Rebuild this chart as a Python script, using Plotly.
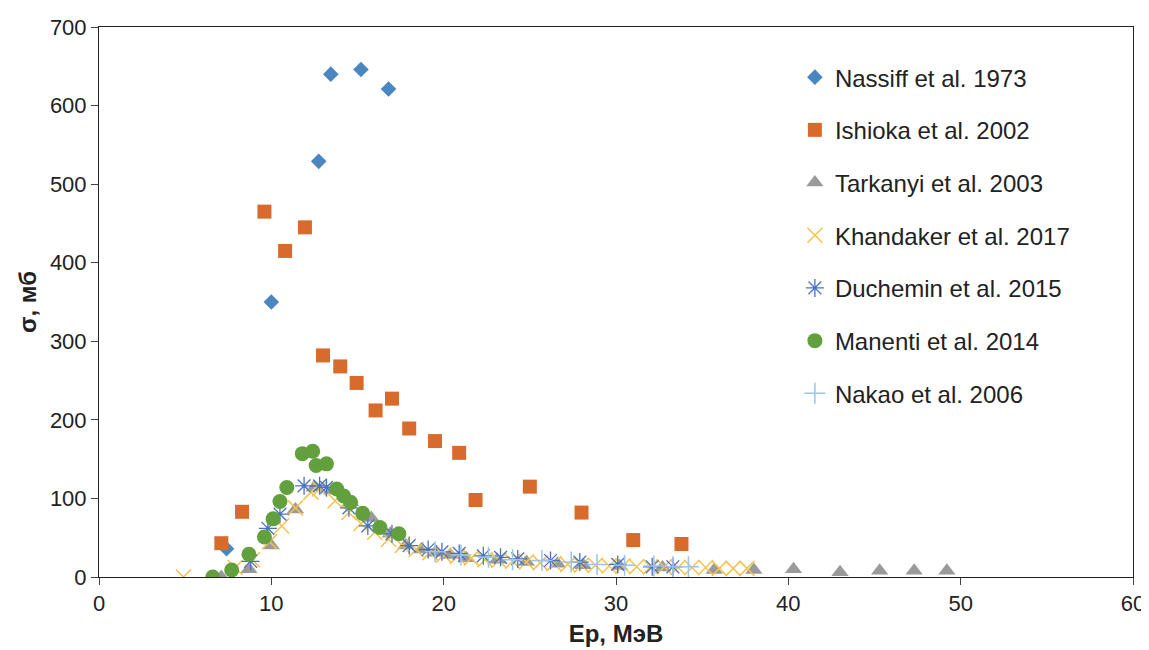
import plotly.graph_objects as go

# Nassiff et al. 1973
nassiff_x = [7.4, 10.0, 12.75, 13.45, 15.2, 16.8]
nassiff_y = [36, 350, 529, 640, 646, 621]

# Ishioka et al. 2002
ishioka_x = [7.1, 8.3, 9.6, 10.8, 11.95, 13.0, 14.0, 14.95, 16.05, 17.0, 18.0, 19.5, 20.9, 21.85, 25.0, 28.0, 31.0, 33.8]
ishioka_y = [43, 83, 465, 415, 445, 282, 268, 247, 212, 227, 189, 173, 158, 98, 115, 82, 47, 42]

# Tarkanyi et al. 2003
tarkanyi_x = [7.1, 8.7, 10.0, 11.4, 12.5, 13.5, 14.6, 15.8, 16.9, 17.8, 18.7, 19.5, 20.4, 21.3, 23.1, 24.8,
              26.6, 28.1, 30.2, 32.7, 35.7, 38.0, 40.3, 43.0, 45.3, 47.3, 49.2]
tarkanyi_y = [0, 10, 40, 86, 114, 110, 95, 75, 55, 40, 35, 31, 28, 24, 22, 19,
              17, 15, 14, 12, 9, 9, 10, 6, 8, 8, 8]

# Khandaker et al. 2017
khandaker_x = [4.9, 7.9, 8.9, 9.9, 10.6, 11.4, 12.3, 12.8, 13.7, 14.5, 15.2, 16.0, 16.8, 17.6, 18.4, 19.2,
               20.0, 20.8, 21.6, 22.4, 23.2, 24.0, 24.8, 25.6, 26.4, 27.2, 28.0, 28.8, 29.6, 30.4, 31.2,
               32.0, 32.8, 33.6, 34.4, 35.2, 36.0, 36.8, 37.6]
khandaker_y = [0, 12, 22, 45, 65, 88, 108, 112, 97, 82, 68, 57, 48, 40, 35, 31,
               28, 26, 24, 22, 21, 20, 19, 18, 17, 16, 15, 15, 14, 14, 13,
               13, 13, 12, 12, 12, 11, 11, 11]

# Duchemin et al. 2015
duchemin_x = [8.8, 9.8, 10.5, 11.9, 12.8, 13.2, 14.5, 15.6, 17.0, 18.0, 19.1, 19.9, 20.9, 22.3, 23.3, 24.3,
              26.2, 27.9, 30.1, 32.1, 33.3]
duchemin_y = [20, 62, 80, 116, 116, 114, 88, 65, 55, 40, 35, 32, 30, 27, 25, 23,
              21, 19, 16, 13, 13]

# Manenti et al. 2014
manenti_x = [6.6, 7.7, 8.7, 9.6, 10.1, 10.5, 10.9, 11.8, 12.4, 12.6, 13.2, 13.8, 14.2, 14.6, 15.3, 16.3, 17.4]
manenti_y = [0, 9, 29, 51, 74, 96, 114, 157, 160, 142, 144, 112, 103, 95, 81, 63, 55]

# Nakao et al. 2006
nakao_x = [19.5, 21.0, 22.6, 24.0, 25.7, 27.4, 28.9, 30.5, 32.2, 33.3, 34.2]
nakao_y = [32, 28, 25, 22, 21, 19, 16, 15, 14, 13, 13]

series = [
    ("Nassiff et al. 1973", nassiff_x, nassiff_y, dict(symbol="diamond", size=12, color="#4A86C0")),
    ("Ishioka et al. 2002", ishioka_x, ishioka_y, dict(symbol="square", size=14, color="#D86B2B")),
    ("Tarkanyi et al. 2003", tarkanyi_x, tarkanyi_y, dict(symbol="triangle-up", size=15, color="#9A9A9A")),
    ("Khandaker et al. 2017", khandaker_x, khandaker_y,
     dict(symbol="x-thin-open", size=15, color="#F4C24E", line=dict(width=1.5, color="#F4C24E"))),
    ("Duchemin et al. 2015", duchemin_x, duchemin_y,
     dict(symbol="asterisk-open", size=15, color="#4A72C4", line=dict(width=1.3, color="#4A72C4"))),
    ("Manenti et al. 2014", manenti_x, manenti_y, dict(symbol="circle", size=15, color="#62A03D")),
    ("Nakao et al. 2006", nakao_x, nakao_y,
     dict(symbol="cross-thin-open", size=15, color="#9DC3E6", line=dict(width=1.5, color="#9DC3E6"))),
]

fig = go.Figure()
for i, (name, xs, ys, mk) in enumerate(series):
    fig.add_trace(go.Scatter(x=xs, y=ys, mode="markers", name=name, marker=mk,
                             legendgroup=f"g{i}"))

axis_common = dict(showgrid=False, zeroline=False, showline=True, linecolor="#222222", linewidth=1,
                   mirror=True, ticks="outside", ticklen=7, tickcolor="#444444", automargin=False,
                   tickfont=dict(family="Liberation Sans, Arial", size=22, color="#222222"))

fig.update_layout(
    width=1141, height=642,
    margin=dict(l=91, r=16, t=19, b=73),
    paper_bgcolor="white", plot_bgcolor="white",
    font=dict(family="Liberation Sans, Arial", color="#222222"),
    xaxis=dict(range=[0, 60], dtick=10, tick0=0,
               title=dict(text="<b>Ep, МэВ</b>", font=dict(size=24), standoff=9),
               **axis_common),
    yaxis=dict(range=[0, 700], dtick=100, tick0=0,
               title=dict(text="<b>σ, мб</b>", font=dict(size=24), standoff=6),
               **axis_common),
    legend=dict(x=0.673, y=0.949, xanchor="left", yanchor="top",
                font=dict(size=24, color="#222222"), tracegroupgap=18.5,
                bgcolor="rgba(0,0,0,0)"),
)

fig.write_html("out.html")
